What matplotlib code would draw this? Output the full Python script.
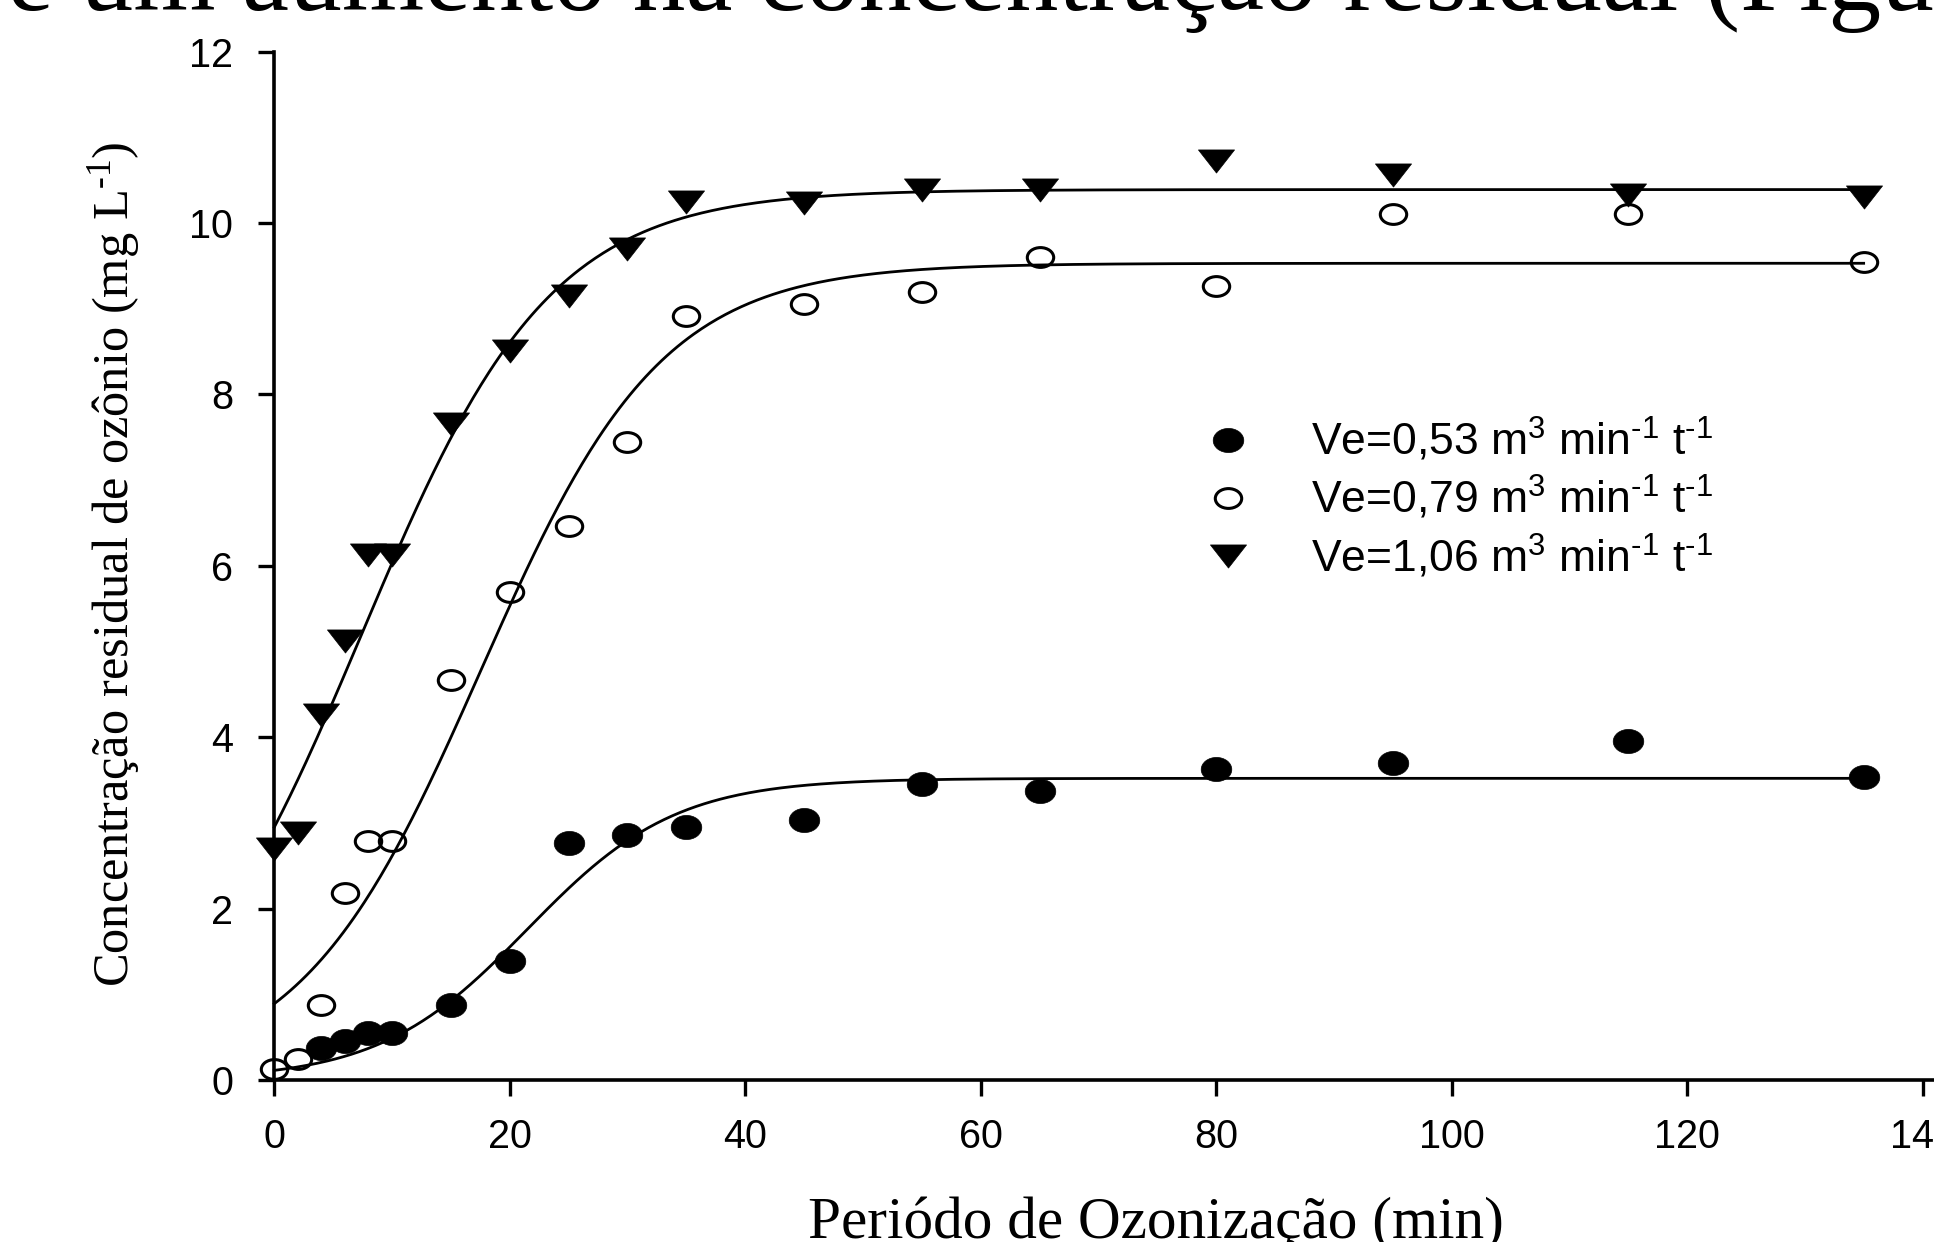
import numpy as np
import matplotlib
matplotlib.use("Agg")
import matplotlib.pyplot as plt
from matplotlib.path import Path
from matplotlib.lines import Line2D
from matplotlib.transforms import Affine2D

plt.rcParams["mathtext.default"] = "regular"

# ---------------- data ----------------
time_min = [0, 2, 4, 6, 8, 10, 15, 20, 25, 30, 35, 45, 55, 65, 80, 95, 115, 135]
ve053_time = [4, 6, 8, 10, 15, 20, 25, 30, 35, 45, 55, 65, 80, 95, 115, 135]
ve053 = [0.37, 0.46, 0.55, 0.55, 0.88, 1.39, 2.77, 2.86, 2.95, 3.03, 3.45, 3.37, 3.63, 3.70, 3.96, 3.54]
ve079 = [0.13, 0.25, 0.88, 2.18, 2.79, 2.79, 4.67, 5.69, 6.47, 7.44, 8.92, 9.05, 9.19, 9.60, 9.26, 10.10, 10.10, 9.54]
ve106 = [2.70, 2.88, 4.26, 5.12, 6.13, 6.13, 7.66, 8.51, 9.15, 9.70, 10.25, 10.23, 10.38, 10.39, 10.72, 10.56, 10.33, 10.30]

# sigmoid fit parameters (a, x0, b)
fit_a = [3.52, 9.53, 10.39]
fit_x0 = [21.5, 17.5, 7.4]
fit_b = [6.3, 7.7, 8.0]
fit_range = [0, 135]

HY = "\u2010"  # short hyphen used in the superscripts
legend_labels = [f"Ve=0,53 m$^3$ min$^{{{HY}1}}$ t$^{{{HY}1}}$",
                 f"Ve=0,79 m$^3$ min$^{{{HY}1}}$ t$^{{{HY}1}}$",
                 f"Ve=1,06 m$^3$ min$^{{{HY}1}}$ t$^{{{HY}1}}$"]
xticks = [0, 20, 40, 60, 80, 100, 120, 140]
yticks = [0, 2, 4, 6, 8, 10, 12]
xlabel = "Periódo de Ozonização (min)"
ylabel = f"Concentração residual de ozônio (mg L$^{{{HY}1}}$)"
top_text = "e um aumento na concentração residual (Figura"
top_prefix = "e um aumento na concentração residual (Fig"

# ---------------- figure ----------------
W, H, DPI = 1934, 1242, 100
fig = plt.figure(figsize=(W / DPI, H / DPI), dpi=DPI)
fig.patch.set_facecolor("white")
renderer = fig.canvas.get_renderer()

SERIF = "Liberation Serif"
SANS = "Liberation Sans"


def fit_size(s, family, target_px, base=30.0):
    t = fig.text(0, 0, s, fontsize=base, family=family)
    w = t.get_window_extent(renderer).width
    t.remove()
    return base * target_px / w


x0_px, x_unit = 274.3, 11.773
y0_px, y_unit = 1080.0, 85.7
xmax = (W - x0_px) / x_unit
ax = fig.add_axes([x0_px / W, (H - y0_px) / H, (W - x0_px) / W, 12 * y_unit / H])
ax.set_xlim(0, xmax)
ax.set_ylim(0, 12)
for s in ("top", "right"):
    ax.spines[s].set_visible(False)
for s in ("left", "bottom"):
    ax.spines[s].set_linewidth(2.6)
ax.set_xticks(xticks)
ax.set_yticks(yticks)
ax.tick_params(axis="both", direction="out", length=11.5, width=2.4, labelsize=28.5)
ax.tick_params(axis="x", pad=16)
ax.tick_params(axis="y", pad=18)
for lab in ax.get_xticklabels() + ax.get_yticklabels():
    lab.set_family(SANS)

# markers
circle_path = Path.unit_circle().transformed(Affine2D().scale(1.0, 0.79))
open_path = Path.unit_circle().transformed(Affine2D().scale(1.0, 0.75))
tri_path = Path([(-1, 0.64), (1, 0.64), (0, -0.64), (-1, 0.64)],
                [Path.MOVETO, Path.LINETO, Path.LINETO, Path.CLOSEPOLY])

styles = [
    dict(marker=circle_path, ms=22, mfc="black", mec="black", mew=0.5),
    dict(marker=open_path, ms=19, mfc="none", mec="black", mew=2.2),
    dict(marker=tri_path, ms=26, mfc="black", mec="black", mew=0.5),
]

xs = np.linspace(fit_range[0], fit_range[1], 600)
for a, c, b in zip(fit_a, fit_x0, fit_b):
    ax.plot(xs, a / (1 + np.exp(-(xs - c) / b)), color="black", lw=2.0, zorder=2,
            clip_on=False)

series = [(ve053_time, ve053), (time_min, ve079), (time_min, ve106)]
for (tx, ty), st in zip(series, styles):
    ax.plot(tx, ty, ls="none", zorder=3, clip_on=False, **st)

# legend
handles = [Line2D([], [], ls="none", **st) for st in styles]
leg_fs = 32
fig.legend(handles, legend_labels, loc="upper left",
           bbox_to_anchor=(1183.6 / W, 1 - 416 / H), bbox_transform=fig.transFigure,
           frameon=False, prop={"family": SANS, "size": leg_fs},
           handlelength=2.0, handletextpad=0.87, labelspacing=0.23,
           borderpad=0, borderaxespad=0, numpoints=1)

# axis labels
xl_fs = fit_size(xlabel, SERIF, 697)
fig.text(808 / W, 1 - 1238 / H, xlabel, family=SERIF, fontsize=xl_fs,
         ha="left", va="baseline")
yl_fs = fit_size(ylabel, SERIF, 845)
fig.text(128 / W, 1 - 564 / H, ylabel, family=SERIF, fontsize=yl_fs,
         rotation=90, rotation_mode="anchor", ha="center", va="baseline")

# partial text line from the surrounding page (cropped at the top)
top_fs = fit_size(top_prefix, SERIF, 1874)
fig.text(7 / W, 1 - 10 / H, top_text, family=SERIF, fontsize=top_fs,
         ha="left", va="baseline")

fig.savefig("out.png", dpi=DPI, facecolor="white")
